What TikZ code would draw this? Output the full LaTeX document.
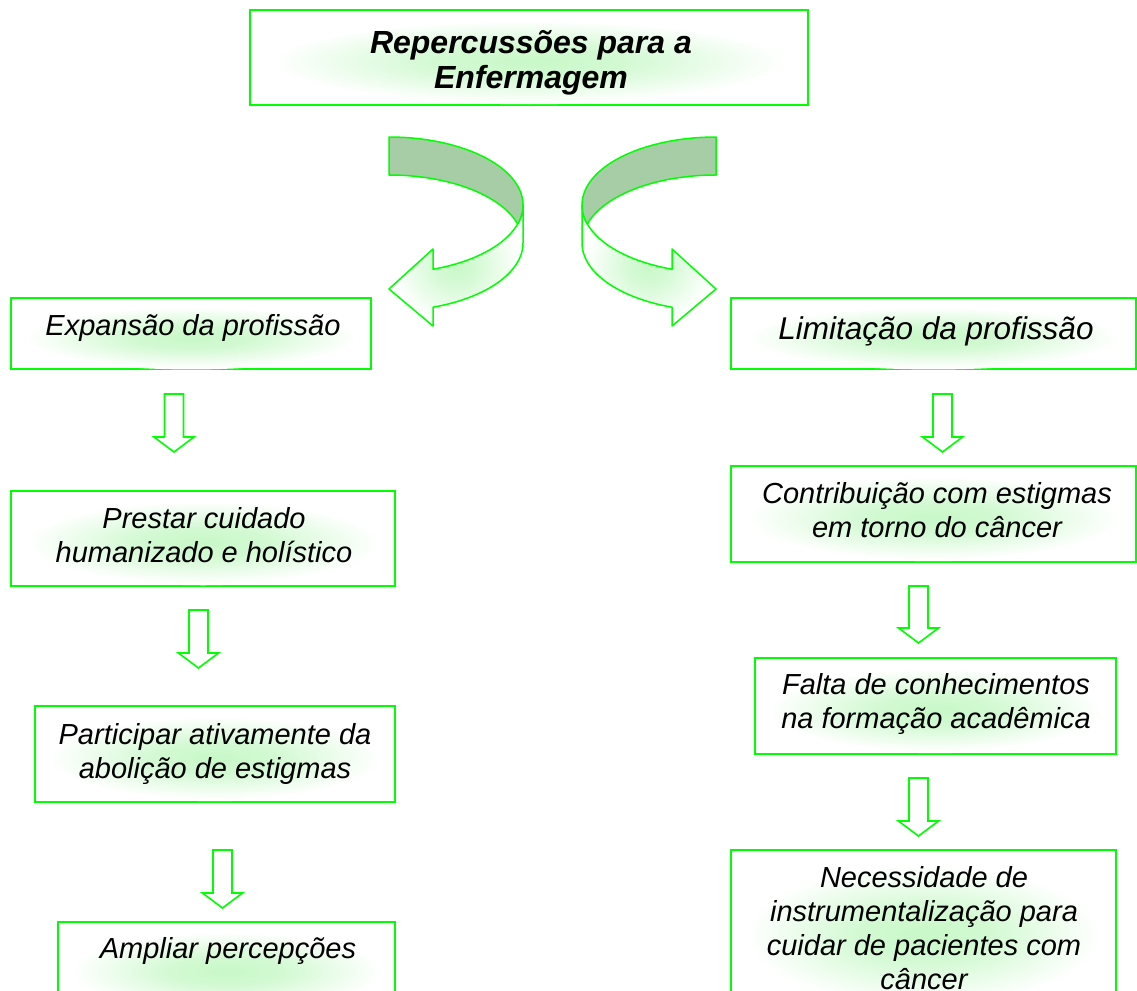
\documentclass[tikz,border=0pt]{standalone}
\usepackage{fontspec}
\setmainfont{Liberation Sans}
\definecolor{lg}{RGB}{0,255,0}
\definecolor{glow}{RGB}{200,248,200}
\definecolor{dk}{RGB}{166,205,166}
\pgfdeclareradialshading{softglow}{\pgfpoint{0bp}{0bp}}{color(0bp)=(glow); color(9bp)=(glow!80!white); color(24bp)=(white); color(50bp)=(white)}
\pgfdeclareradialshading{arrowglow}{\pgfpoint{0bp}{0bp}}{color(0bp)=(glow); color(8bp)=(glow!75!white); color(24bp)=(white); color(50bp)=(white)}
\newcommand\mlines[1]{\begin{tabular}[t]{@{}c@{}}#1\end{tabular}}
\newcommand\boxnode[5]{\node[box, minimum width={#4-#2}, minimum height={#5-#3}] (#1) at ({(#2+#4)/2},{(#3+#5)/2}) {};
  \shade[shading=softglow, transform canvas={xshift={(#2+#4)/2*1pt}, yshift={-((#3+#5)/2+4)*1pt}, xscale={(#4-#2)/(#5-#3)*0.48/0.45}}] (0,0) circle [radius={0.45*(#5-#3)}];}
\newcommand\blockarrow[4]{\draw[barrow] ({#2-9.5},#3) -- ({#2+9.5},#3) -- ({#2+9.5},{#4-15}) -- ({#2+20},{#4-15}) -- (#2,#4) -- ({#2-20},{#4-15}) -- ({#2-9.5},{#4-15}) -- cycle;}
\begin{document}
\begin{tikzpicture}[x=1pt,y=-1pt,
  box/.style={draw=lg, line width=1.6pt, fill=white, inner sep=0pt, outer sep=0pt},
  barrow/.style={draw=lg, line width=1.6pt, fill=white, line join=miter},
  ribbon/.style={draw=lg, line width=1.5pt, line join=round},
  txt/.style={inner sep=0pt, anchor=base, font=\itshape\fontsize{29}{34}\selectfont},
  ttl/.style={inner sep=0pt, anchor=base, font=\bfseries\itshape\fontsize{32}{35}\selectfont}]
\useasboundingbox (0,0) rectangle (1137,990);
\clip (0,0) rectangle (1137,990);
\fill[white] (0,0) rectangle (1137,990);

% boxes
\boxnode{title}{250}{10}{808}{105}
\boxnode{exp}{11}{298}{371}{369}
\boxnode{lim}{731}{298}{1136}{369}
\boxnode{prest}{11}{491}{395}{586}
\boxnode{part}{35}{706}{395}{802}
\boxnode{amp}{58}{922}{395}{1012}
\boxnode{contr}{731}{466}{1136}{562}
\boxnode{falta}{755}{658}{1116}{754}
\boxnode{nec}{731}{850}{1116}{1012}

% texts
\node[ttl] (titlet) at (531,54) {\mlines{Repercussões para a\\Enfermagem}};
\node[txt] (expt) at (193,335) {Expansão da profissão};
\node[txt, font=\itshape\fontsize{31.5}{36}\selectfont] (limt) at (936,339) {Limitação da profissão};
\node[txt] (prestt) at (204,528) {\mlines{Prestar cuidado\\humanizado e holístico}};
\node[txt] (partt) at (215,744) {\mlines{Participar ativamente da\\abolição de estigmas}};
\node[txt] (ampt) at (228,958) {Ampliar percepções};
\node[txt] (contrt) at (937,503) {\mlines{Contribuição com estigmas\\em torno do câncer}};
\node[txt] (faltat) at (936,694) {\mlines{Falta de conhecimentos\\na formação acadêmica}};
\node[txt] (nect) at (924,887) {\mlines{Necessidade de\\instrumentalização para\\cuidar de pacientes com\\câncer}};

% block arrows
\blockarrow{a1}{174}{394}{452}
\blockarrow{a2}{198.5}{610}{668}
\blockarrow{a3}{222.5}{850}{908}
\blockarrow{b1}{942.5}{394}{452}
\blockarrow{b2}{918.5}{586}{643}
\blockarrow{b3}{918.5}{778}{836}

% curved ribbon arrows
\foreach \sh/\sc in {0/1, 1105/-1}{
\begin{scope}[xshift=\sh pt, xscale=\sc]
\path[ribbon, shade, shading=arrowglow] plot[domain=0:70.83, samples=40] ({389+134*cos(\x)},{205+68*sin(\x)}) -- (433,249) -- (389,289) -- (433,326) -- plot[domain=70.83:0, samples=40] ({389+134*cos(\x)},{243+68*sin(\x)}) -- cycle;
\path[ribbon, fill=dk] plot[domain=-90:16.22, samples=60] ({389+134*cos(\x)},{205+68*sin(\x)}) -- plot[domain=-16.22:-90, samples=60] ({389+134*cos(\x)},{243+68*sin(\x)}) -- cycle;
\end{scope}}
\end{tikzpicture}
\end{document}
